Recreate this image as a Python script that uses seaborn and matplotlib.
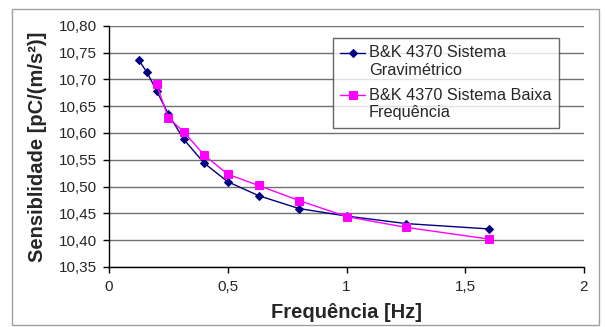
import numpy as np
import pandas as pd
import seaborn as sns
import matplotlib.pyplot as plt
from matplotlib.patches import Rectangle
from matplotlib.lines import Line2D
from matplotlib.legend_handler import HandlerLine2D

# dados
freq_grav = [0.125, 0.16, 0.2, 0.25, 0.315, 0.4, 0.5, 0.63, 0.8, 1.0, 1.25, 1.6]
sens_grav = [10.736, 10.713, 10.679, 10.635, 10.588, 10.544, 10.509, 10.483, 10.459, 10.445, 10.431, 10.421]
freq_baixa = [0.2, 0.25, 0.315, 0.4, 0.5, 0.63, 0.8, 1.0, 1.25, 1.6]
sens_baixa = [10.691, 10.628, 10.602, 10.559, 10.523, 10.502, 10.474, 10.444, 10.424, 10.402]

xticks = [0, 0.5, 1, 1.5, 2]
xticklabels = ["0", "0,5", "1", "1,5", "2"]
yticks = [10.35, 10.40, 10.45, 10.50, 10.55, 10.60, 10.65, 10.70, 10.75, 10.80]
yticklabels = ["10,35", "10,40", "10,45", "10,50", "10,55", "10,60", "10,65", "10,70", "10,75", "10,80"]

lab_grav = "B&K 4370 Sistema\nGravimétrico"
lab_baixa = "B&K 4370 Sistema Baixa\nFrequência"


class HandlerPrimeiraLinha(HandlerLine2D):
    # sobe o marcador para a altura da primeira linha do texto
    def create_artists(self, legend, orig_handle, xdescent, ydescent, width, height, fontsize, trans):
        return super().create_artists(legend, orig_handle, xdescent, ydescent - 1.1 * fontsize,
                                      width, height, fontsize, trans)


sns.set_style("white")
plt.rcParams['font.family'] = ['Liberation Sans', 'DejaVu Sans']

fig = plt.figure(figsize=(6.05, 3.27), dpi=100)
ax = fig.add_axes([109/605, 1-267/327, (584-109)/605, (267-25.7)/327])

df_g = pd.DataFrame({"f": freq_grav, "s": sens_grav})
df_b = pd.DataFrame({"f": freq_baixa, "s": sens_baixa})
sns.lineplot(data=df_g, x="f", y="s", ax=ax, color="#000080", marker="D", markersize=4.5,
             markeredgecolor="#000080", linewidth=1, label=lab_grav)
sns.lineplot(data=df_b, x="f", y="s", ax=ax, color="#FF00FF", marker="s", markersize=6,
             markeredgecolor="#FF00FF", linewidth=1, label=lab_baixa)

ax.set_xlim(0, 2)
ax.set_ylim(10.35, 10.80)
ax.set_xticks(xticks)
ax.set_xticklabels(xticklabels)
ax.set_yticks(yticks)
ax.set_yticklabels(yticklabels)
ax.tick_params(axis="both", labelsize=11, direction="out", length=4.5, width=1, color="black")
ax.tick_params(axis="x", bottom=True, pad=5)
ax.tick_params(axis="y", left=True, pad=4)
ax.grid(axis="y", color="#707070", linewidth=1)
ax.set_axisbelow(True)
for s in ["top", "right"]:
    ax.spines[s].set_visible(False)
for s in ["left", "bottom"]:
    ax.spines[s].set_color("black")
    ax.spines[s].set_linewidth(1)

ax.set_xlabel("Frequência [Hz]", fontsize=14.5, fontweight="bold", labelpad=6)
ax.set_ylabel("Sensiblidade [pC/(m/s²)]", fontsize=14.5, fontweight="bold", labelpad=9)

leg = ax.legend(loc="upper left", bbox_to_anchor=(333/605, 1-38/327), bbox_transform=fig.transFigure,
                fontsize=11.7, frameon=True, fancybox=False, handlelength=1.5, handletextpad=0.25,
                borderpad=0.45, labelspacing=0.62, borderaxespad=0,
                handler_map={Line2D: HandlerPrimeiraLinha()})
leg.get_frame().set_edgecolor("#404040")
leg.get_frame().set_linewidth(1)

# moldura do grafico
fig.patches.append(Rectangle((12/605, 1-325/327), (599-12)/605, (325-9)/327,
                             transform=fig.transFigure, fill=False, edgecolor="#A0A0A0", linewidth=1))

fig.savefig("out.png", dpi=100)
